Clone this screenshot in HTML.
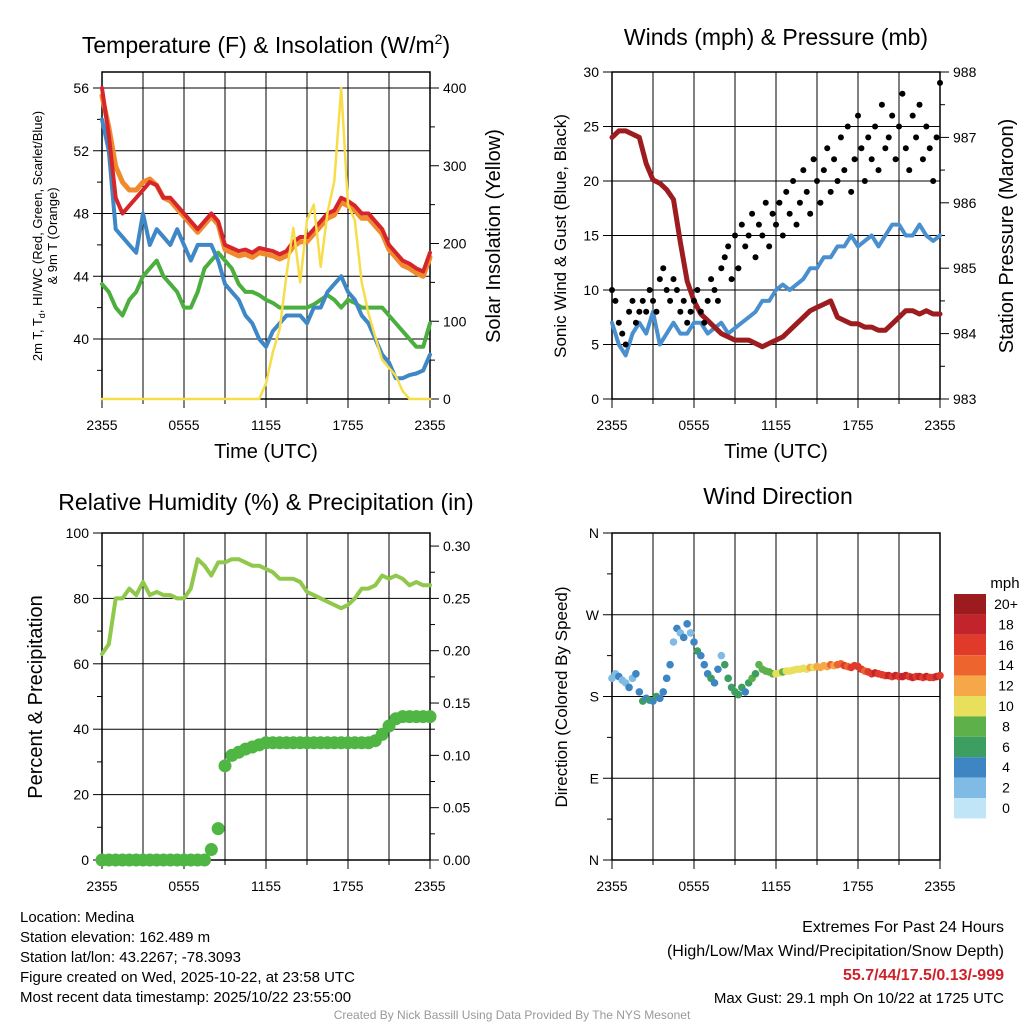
<!DOCTYPE html>
<html><head><meta charset="utf-8">
<style>
html,body{margin:0;padding:0;background:#fff;}
svg{display:block;font-family:"Liberation Sans",Arial,sans-serif;}
</style></head>
<body>
<svg id="chart" width="1024" height="1024" viewBox="0 0 1024 1024" xmlns="http://www.w3.org/2000/svg">
<g id="p1"></g>
<g id="p2"></g>
<g id="p3"></g>
<g id="p4"></g>
<g id="txt">
<text x="266" y="53" font-size="23" text-anchor="middle">Temperature (F) &amp; Insolation (W/m<tspan font-size="14" dy="-9">2</tspan><tspan dy="9">)</tspan></text>
<text x="776" y="45" font-size="23" text-anchor="middle">Winds (mph) &amp; Pressure (mb)</text>
<text x="266" y="510" font-size="23" text-anchor="middle">Relative Humidity (%) &amp; Precipitation (in)</text>
<text x="778" y="504" font-size="23" text-anchor="middle">Wind Direction</text>
<text x="266" y="458" font-size="20" text-anchor="middle">Time (UTC)</text>
<text x="776" y="458" font-size="20" text-anchor="middle">Time (UTC)</text>
<text transform="translate(42,236) rotate(-90)" font-size="13" text-anchor="middle">2m T, T<tspan font-size="9" dy="3">d</tspan><tspan dy="-3">, HI/WC (Red, Green, Scarlet/Blue)</tspan></text>
<text transform="translate(57,236) rotate(-90)" font-size="13" text-anchor="middle">&amp; 9m T (Orange)</text>
<text transform="translate(500,236) rotate(-90)" font-size="20" text-anchor="middle">Solar Insolation (Yellow)</text>
<text transform="translate(566,236) rotate(-90)" font-size="17" text-anchor="middle">Sonic Wind &amp; Gust (Blue, Black)</text>
<text transform="translate(1013,236) rotate(-90)" font-size="20" text-anchor="middle">Station Pressure (Maroon)</text>
<text transform="translate(42,697) rotate(-90)" font-size="20" text-anchor="middle">Percent &amp; Precipitation</text>
<text transform="translate(567,697) rotate(-90)" font-size="17" text-anchor="middle">Direction (Colored By Speed)</text>
<text x="1005" y="588" font-size="15" text-anchor="middle">mph</text>
<g font-size="15">
<text x="20" y="922">Location: Medina</text>
<text x="20" y="942">Station elevation: 162.489 m</text>
<text x="20" y="962">Station lat/lon: 43.2267; -78.3093</text>
<text x="20" y="982">Figure created on Wed, 2025-10-22, at 23:58 UTC</text>
<text x="20" y="1002">Most recent data timestamp: 2025/10/22 23:55:00</text>
</g>
<g font-size="16" text-anchor="end">
<text x="1004" y="932">Extremes For Past 24 Hours</text>
<text x="1004" y="956">(High/Low/Max Wind/Precipitation/Snow Depth)</text>
<text x="1004" y="980" fill="#d0202a" font-weight="bold">55.7/44/17.5/0.13/-999</text>
<text x="1004" y="1003" font-size="15">Max Gust: 29.1 mph On 10/22 at 1725 UTC</text>
</g>
<text x="512" y="1019" font-size="12" fill="#999" text-anchor="middle">Created By Nick Bassill Using Data Provided By The NYS Mesonet</text>
</g>
</svg>
<script>
const NS="http://www.w3.org/2000/svg";
const timeLabels=["2355","0555","1155","1755","2355"];
const tempRed=[56,53,49,48,48.5,49,49.5,50,49.8,49,49,48.5,48,47.5,47,47.5,48,47.5,46,45.8,45.6,45.7,45.5,45.8,45.7,45.6,45.4,45.6,46.2,46.5,46.5,47,47.5,48,48.2,49,48.8,48.5,48,48,47.5,47,46,45.5,45,44.8,44.5,44.3,45.5];
const tempOrange=[55.5,53.5,51,50,49.5,49.5,50,50.2,49.8,49,48.8,48.3,47.8,47.3,46.8,47.3,47.8,47.3,45.7,45.5,45.3,45.4,45.2,45.5,45.4,45.3,45.1,45.3,45.9,46.2,46.2,46.7,47.2,47.7,47.9,48.7,48.5,48.2,47.7,47.7,47.2,46.7,45.7,45.2,44.7,44.5,44.2,44,45.2];
const tempBlue=[54,52,47,46.5,46,45.5,48,46,47,46.5,46,47,46,45,46,46,46,45,43.5,43,42.5,41.5,41,40,39.5,40.5,41,41.5,41.5,41.5,41,42,42,43,43.5,44,43,42.5,41.5,41,40,39,38.5,37.5,37.5,37.7,37.8,38,39];
const dewGreen=[43.5,43,42,41.5,42.5,43,44,44.5,45,44,43.5,43,42,42,43,44.5,45,45.5,45,44.5,43.5,43,43,42.8,42.5,42.3,42,42,42,42,42,42.2,42.5,42.8,42.5,42,42.5,42.3,42,42,42,42,41.5,41,40.5,40,39.5,39.5,41];
const solar=[0,0,0,0,0,0,0,0,0,0,0,0,0,0,0,0,0,0,0,0,0,0,0,0,20,60,90,160,220,150,230,250,170,240,280,400,250,230,150,110,80,50,40,30,10,0,0,0,0];
const sonicWind=[7,5,4,6,7,6,8,5,6,7,6,6,7,7,6,6.5,7,6,6.5,7,7.5,8,9,9,10,10.5,10,10.5,11,12,12,13,13,14,14,15,14,14.5,15,14,15,16,16,15,15,16,15,14.5,15];
const gusts=[10,9,7,6,5,8,9,7,8,9,8,10,9,8,11,12,10,9,11,10,8,9,7,8,9,10,8,7,9,11,10,9,12,13,14,11,15,12,16,14,15,17,13,16,15,18,14,17,16,18,15,19,17,20,16,18,21,19,17,22,20,18,21,23,19,22,20,24,21,25,19,22,26,23,20,24,22,25,21,27,23,24,26,22,25,28,23,21,26,24,27,22,25,23,20,24,29];
const pressure=[987,987.1,987.1,987.05,987,986.6,986.35,986.3,986.2,986.05,985.4,984.8,984.5,984.3,984.2,984.1,984,983.95,983.9,983.9,983.9,983.85,983.8,983.85,983.9,983.95,984.05,984.15,984.25,984.35,984.4,984.45,984.5,984.25,984.2,984.15,984.15,984.1,984.1,984.05,984.05,984.15,984.25,984.35,984.35,984.3,984.35,984.3,984.3];
const rhValues=[63,66,80,80,83,81,85,81,82,81,81,80,80,83,92,90,87,91,91,92,92,91,90,90,89,88,86,86,86,85,82,81,80,79,78,77,78,80,83,83,84,87,86,87,86,84,85,84,84];
const precip=[0,0,0,0,0,0,0,0,0,0,0,0,0,0,0,0,0.01,0.03,0.09,0.1,0.103,0.106,0.108,0.11,0.112,0.112,0.112,0.112,0.112,0.112,0.112,0.112,0.112,0.112,0.112,0.112,0.112,0.112,0.112,0.112,0.114,0.12,0.128,0.135,0.137,0.137,0.137,0.137,0.137];
const windDir=[200,205,202,198,195,190,200,205,185,175,178,176,175,180,178,185,200,215,240,255,250,245,260,250,240,230,225,215,205,200,195,210,225,215,200,190,185,182,190,185,195,200,205,215,210,208,207,205,205,206,207,208,208,209,210,210,211,210,212,212,213,212,214,213,215,214,215,216,214,213,212,214,213,210,208,207,205,206,205,204,203,203,202,203,202,202,203,202,201,202,202,201,202,201,201,202,203];
const windSpd=[3,3,4,3,3,4,3,4,5,6,5,6,5,6,5,4,5,4,3,4,3,5,4,3,5,6,5,4,5,6,5,4,3,6,7,6,7,6,6,5,7,8,7,9,8,8,9,9,10,10,9,10,10,11,10,11,10,11,12,11,12,13,12,13,14,13,15,14,16,15,17,16,16,17,15,16,17,18,17,16,17,18,17,18,17,18,18,17,18,17,18,17,18,17,17,18,17];
const barLabels=["20+","18","16","14","12","10","8","6","4","2","0"];
const barColors=["#9b1b1f","#c3232a","#e03a2b","#ee642f","#f6a848","#e8e05d","#5db04a","#3d9e62","#3e85c3","#7fbbe5","#bfe5f7"];

function mk(tag,attrs,parent){const e=document.createElementNS(NS,tag);for(const k in attrs)e.setAttribute(k,attrs[k]);parent.appendChild(e);return e;}
function lin(d0,d1,r0,r1){return v=>r0+(v-d0)/(d1-d0)*(r1-r0);}

function frame(g,x0,y0,x1,y1,left,right,name){
  for(let i=0;i<=8;i++){const x=x0+(x1-x0)*i/8;
    const l=mk('line',{x1:x,x2:x,y1:y0,y2:y1,stroke:'#000','stroke-width':1},g);
    
    
    mk('line',{x1:x,x2:x,y1:y1,y2:y1+(i%2?5:9),stroke:'#000'},g);}
  timeLabels.forEach((t,i)=>{const tx=mk('text',{x:x0+(x1-x0)*i/4,y:y1+31,'font-size':14,'text-anchor':'middle'},g);tx.textContent=t;
    
    });
  left.forEach(t=>{const y=t.y;
    if(t.grid){const l=mk('line',{x1:x0,x2:x1,y1:y,y2:y,stroke:'#000'},g);
      
      }
    mk('line',{x1:x0-(t.label?9:5),x2:x0,y1:y,y2:y,stroke:'#000'},g);
    if(t.label){const tx=mk('text',{x:x0-13,y:y+5,'font-size':14,'text-anchor':'end'},g);tx.textContent=t.label;
      
      }});
  right.forEach(t=>{mk('line',{x1:x1,x2:x1+(t.label?9:5),y1:t.y,y2:t.y,stroke:'#000'},g);
    if(t.label){const tx=mk('text',{x:x1+13,y:t.y+5,'font-size':14},g);tx.textContent=t.label;
      
      }});
  const r=mk('rect',{x:x0,y:y0,width:x1-x0,height:y1-y0,fill:'none',stroke:'#000','stroke-width':1.5},g);
  
  
}
function line(g,arr,xs,ys,color,w,name){
  const n=arr.length;const d=arr.map((v,i)=>(i?'L':'M')+xs(i/(n-1)).toFixed(1)+','+ys(v).toFixed(1)).join('');
  const p=mk('path',{d:d,fill:'none',stroke:color,'stroke-width':w,'stroke-linejoin':'round','stroke-linecap':'round'},g);
  
  
}
function dots(g,arr,xs,ys,color,r,name,colorFn){
  const n=arr.length;arr.forEach((v,i)=>{
    const c=mk('circle',{cx:xs(i/(n-1)),cy:ys(v),r:r,fill:colorFn?colorFn(i):color},g);
    
    });
}

// Panel 1
(function(){const g=document.getElementById('p1');const X0=102,X1=430,Y0=72,Y1=399;
  const yl=lin(40,56,339,88), yr=lin(0,400,399,88), xs=lin(0,1,X0,X1);
  const left=[];for(let v=38;v<=56;v+=2)left.push({y:yl(v),label:v%4===0?String(v):null,grid:v%4===0});
  const right=[];for(let v=0;v<=400;v+=50)right.push({y:yr(v),label:v%100===0?String(v):null});
  frame(g,X0,Y0,X1,Y1,left,right,'temp');
  line(g,dewGreen,xs,yl,'#4cae3f',4,'dewpoint-line');
  line(g,tempBlue,xs,yl,'#3f88c5',4,'windchill-line');
  line(g,tempOrange,xs,yl,'#f08a2c',5,'temp-9m-line');
  line(g,tempRed,xs,yl,'#d7262b',4,'temp-2m-line');
  line(g,solar,xs,yr,'#f7dd4a',2.5,'solar-line');
})();
// Panel 2
(function(){const g=document.getElementById('p2');const X0=612,X1=940,Y0=72,Y1=399;
  const yl=lin(0,30,399,72), yr=lin(983,988,399,72), xs=lin(0,1,X0,X1);
  const left=[];for(let v=0;v<=30;v+=5)left.push({y:yl(v),label:String(v),grid:v>0&&v<30});
  const right=[];for(let v=983;v<=988;v+=0.5)right.push({y:yr(v),label:Number.isInteger(v)?String(v):null});
  frame(g,X0,Y0,X1,Y1,left,right,'winds');
  line(g,sonicWind,xs,yl,'#4a90cf',4,'sonic-wind-line');
  line(g,pressure,xs,yr,'#9c1c1f',5,'pressure-line');
  dots(g,gusts,xs,yl,'#000',3,'gust-dot');
})();
// Panel 3
(function(){const g=document.getElementById('p3');const X0=102,X1=430,Y0=533,Y1=860;
  const yl=lin(0,100,860,533), yr=lin(0,0.3125,860,533), xs=lin(0,1,X0,X1);
  const left=[];for(let v=0;v<=100;v+=10)left.push({y:yl(v),label:v%20===0?String(v):null,grid:v%20===0&&v>0&&v<100});
  const right=[];for(let v=0;v<=0.3;v+=0.025)right.push({y:yr(v),label:Math.round(v*1000)%50===0?v.toFixed(2):null});
  frame(g,X0,Y0,X1,Y1,left,right,'rh');
  line(g,rhValues,xs,yl,'#8fc84a',4,'rh-line');
  dots(g,precip,xs,yr,'#4fb543',6.5,'precip-dot');
})();
// Panel 4
(function(){const g=document.getElementById('p4');const X0=612,X1=940,Y0=533,Y1=860;
  const yl=lin(0,360,860,533), xs=lin(0,1,X0,X1);
  const names=["N","E","S","W","N"];
  const left=[];for(let v=0;v<=360;v+=45)left.push({y:yl(v),label:v%90===0?names[v/90]:null,grid:v%90===0&&v>0&&v<360});
  frame(g,X0,Y0,X1,Y1,left,[],'wdir');
  const col=i=>{const s=windSpd[i];const k=s>=20?0:10-Math.floor(s/2);return barColors[Math.max(0,Math.min(10,k))];};
  dots(g,windDir,xs,yl,null,3.8,'wind-dir-dot',col);
  const bx=954,by=594,bh=20.4;
  barColors.forEach((c,i)=>{const r=mk('rect',{x:bx,y:by+i*bh,width:32,height:bh,fill:c},g);
    
    
    const t=mk('text',{x:1006,y:by+i*bh+15,'font-size':14,'text-anchor':'middle'},g);t.textContent=barLabels[i];
    
    });
})();
</script>
</body></html>
